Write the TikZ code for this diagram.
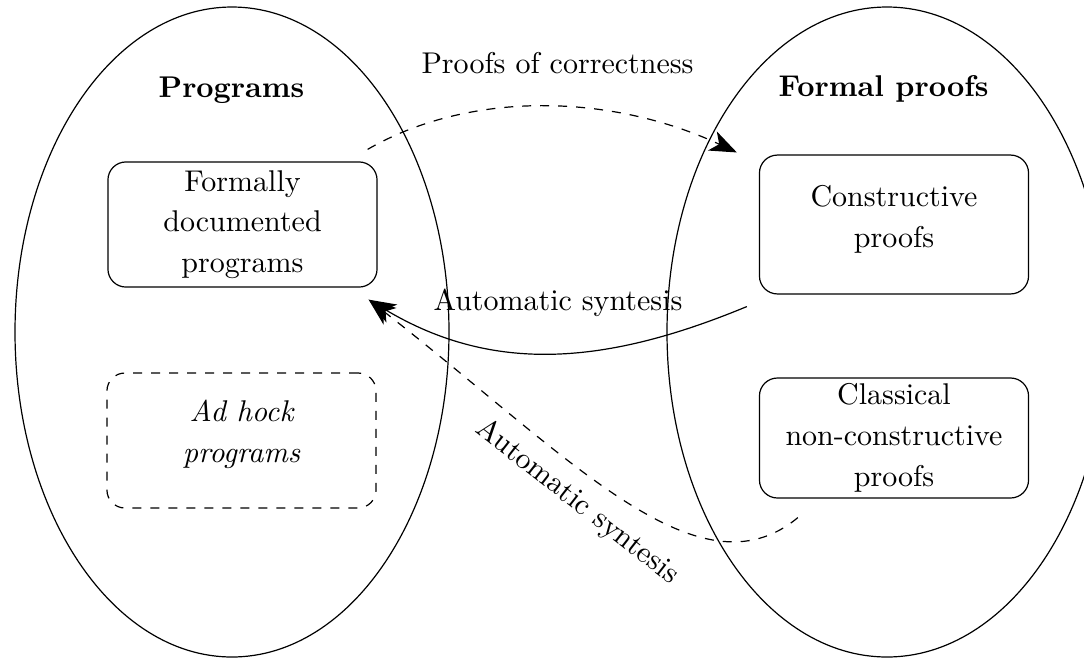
\documentclass[tikz,border=0pt]{standalone}
\usetikzlibrary{arrows.meta}
\begin{document}
\begin{tikzpicture}[x=0.333333pt,y=-0.333333pt,
  box/.style={draw,rounded corners=6pt,align=center,minimum width=89.7pt,inner xsep=2pt,inner ysep=1pt,font=\fontsize{10}{13.6}\selectfont},
  tip/.style={-{Stealth[length=9pt,width=7pt,inset=2.5pt]}},
  title/.style={font=\bfseries,anchor=base},
  lbl/.style={font=\fontsize{10}{12}\selectfont}]
\useasboundingbox (0,0) rectangle (1084,657);
% ellipses
\draw (232,332) ellipse [x radius=72.33pt,y radius=108.33pt];
\draw (887,332) ellipse [x radius=73.33pt,y radius=108.33pt];
% titles
\node[title] (tprog) at (231.5,97) {Programs};
\node[title] (tform) at (883.5,96) {Formal proofs};
% boxes
\node[box,minimum height=41.7pt] (formally) at (242.5,224.5) {Formally\\documented\\programs};
\node[box,dashed,minimum height=45pt,text depth=6.4pt] (adhock) at (241.5,440.5) {\itshape Ad hock\\\itshape programs};
\node[box,minimum height=46.3pt,text depth=5.2pt] (constr) at (894,224.5) {Constructive\\proofs};
\node[box,minimum height=40pt] (classic) at (894,438) {Classical\\non-constructive\\proofs};
% connectors
\draw[tip,dashed] ([shift={(-10,-12)}]formally.north east)
  .. controls +(102,-59) and +(-126,-59) .. ([shift={(-22,-2)}]constr.north west);
\node[lbl,anchor=base] (lcorr) at (557.5,73) {Proofs of correctness};
\draw[tip] ([shift={(-12,12)}]constr.south west)
  .. controls +(-140,58) and +(125,75) .. ([shift={(-9,12)}]formally.south east);
\node[lbl] (lsyn1) at (558,303) {Automatic syntesis};
\draw[tip,dashed] ([shift={(39,19)}]classic.south west)
  .. controls +(-100,83) and +(200,156) .. ([shift={(-9,12)}]formally.south east);
\node[lbl,rotate=-38] (lsyn2) at (577,502) {Automatic syntesis};
\end{tikzpicture}
\end{document}
